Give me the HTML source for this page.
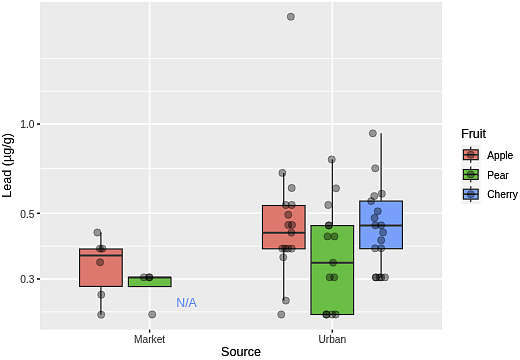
<!DOCTYPE html>
<html><head><meta charset="utf-8"><style>
html,body{margin:0;padding:0;background:#fff;}
svg{display:block;font-family:"Liberation Sans",sans-serif;will-change:transform;}
text{paint-order:stroke;}
</style></head><body>
<svg width="520" height="360" viewBox="0 0 520 360">
<defs><filter id="sh" x="0" y="0" width="520" height="360" filterUnits="userSpaceOnUse" color-interpolation-filters="sRGB"><feGaussianBlur stdDeviation="0.30"/><feConvolveMatrix order="3" kernelMatrix="-0.0600 -0.0600 -0.0600 -0.0600 1.4800 -0.0600 -0.0600 -0.0600 -0.0600" preserveAlpha="true" edgeMode="duplicate"/></filter></defs>
<g filter="url(#sh)">
<rect width="520" height="360" fill="#fff"/>
<rect x="40.00" y="1.80" width="402.00" height="327.80" fill="#EBEBEB"/>
<line x1="40.00" x2="442.00" y1="58.60" y2="58.60" stroke="#FFFFFF" stroke-width="0.8"/>
<line x1="40.00" x2="442.00" y1="91.25" y2="91.25" stroke="#FFFFFF" stroke-width="0.8"/>
<line x1="40.00" x2="442.00" y1="168.70" y2="168.70" stroke="#FFFFFF" stroke-width="0.8"/>
<line x1="40.00" x2="442.00" y1="246.15" y2="246.15" stroke="#FFFFFF" stroke-width="0.8"/>
<line x1="40.00" x2="442.00" y1="311.85" y2="311.85" stroke="#FFFFFF" stroke-width="0.8"/>
<line x1="40.00" x2="442.00" y1="124.05" y2="124.05" stroke="#FFFFFF" stroke-width="1.6"/>
<line x1="40.00" x2="442.00" y1="213.30" y2="213.30" stroke="#FFFFFF" stroke-width="1.6"/>
<line x1="40.00" x2="442.00" y1="279.00" y2="279.00" stroke="#FFFFFF" stroke-width="1.6"/>
<line x1="149.60" x2="149.60" y1="1.80" y2="329.60" stroke="#FFFFFF" stroke-width="1.6"/>
<line x1="332.30" x2="332.30" y1="1.80" y2="329.60" stroke="#FFFFFF" stroke-width="1.6"/>
<line x1="100.90" x2="100.90" y1="232.60" y2="249.00" stroke="#333333" stroke-width="1.25"/>
<line x1="100.90" x2="100.90" y1="286.40" y2="314.70" stroke="#333333" stroke-width="1.25"/>
<rect x="79.60" y="249.00" width="42.60" height="37.40" fill="rgb(220,120,110)" stroke="#333333" stroke-width="1.25"/>
<line x1="79.60" x2="122.20" y1="255.60" y2="255.60" stroke="#333333" stroke-width="2.00"/>
<rect x="128.40" y="277.40" width="42.60" height="9.15" fill="rgb(106,189,69)" stroke="#333333" stroke-width="1.25"/>
<line x1="128.40" x2="171.00" y1="277.40" y2="277.40" stroke="#333333" stroke-width="2.00"/>
<line x1="283.75" x2="283.75" y1="173.00" y2="205.50" stroke="#333333" stroke-width="1.25"/>
<line x1="283.75" x2="283.75" y1="248.80" y2="300.40" stroke="#333333" stroke-width="1.25"/>
<rect x="262.45" y="205.50" width="42.60" height="43.30" fill="rgb(220,120,110)" stroke="#333333" stroke-width="1.25"/>
<line x1="262.45" x2="305.05" y1="232.70" y2="232.70" stroke="#333333" stroke-width="2.00"/>
<line x1="332.30" x2="332.30" y1="159.60" y2="225.60" stroke="#333333" stroke-width="1.25"/>
<rect x="311.00" y="225.60" width="42.60" height="88.90" fill="rgb(106,189,69)" stroke="#333333" stroke-width="1.25"/>
<line x1="311.00" x2="353.60" y1="262.80" y2="262.80" stroke="#333333" stroke-width="2.00"/>
<line x1="381.10" x2="381.10" y1="133.30" y2="201.10" stroke="#333333" stroke-width="1.25"/>
<line x1="381.10" x2="381.10" y1="248.70" y2="277.40" stroke="#333333" stroke-width="1.25"/>
<rect x="359.80" y="201.10" width="42.60" height="47.60" fill="rgb(120,160,250)" stroke="#333333" stroke-width="1.25"/>
<line x1="359.80" x2="402.40" y1="225.40" y2="225.40" stroke="#333333" stroke-width="2.00"/>
<circle cx="97.40" cy="232.50" r="3.65" fill="rgba(0,0,0,0.37)" stroke="rgba(0,0,0,0.37)" stroke-width="0.75"/>
<circle cx="99.90" cy="248.60" r="3.65" fill="rgba(0,0,0,0.37)" stroke="rgba(0,0,0,0.37)" stroke-width="0.75"/>
<circle cx="102.40" cy="248.60" r="3.65" fill="rgba(0,0,0,0.37)" stroke="rgba(0,0,0,0.37)" stroke-width="0.75"/>
<circle cx="100.10" cy="262.25" r="3.65" fill="rgba(0,0,0,0.37)" stroke="rgba(0,0,0,0.37)" stroke-width="0.75"/>
<circle cx="101.30" cy="294.70" r="3.65" fill="rgba(0,0,0,0.37)" stroke="rgba(0,0,0,0.37)" stroke-width="0.75"/>
<circle cx="101.20" cy="314.70" r="3.65" fill="rgba(0,0,0,0.37)" stroke="rgba(0,0,0,0.37)" stroke-width="0.75"/>
<circle cx="143.80" cy="277.30" r="3.65" fill="rgba(0,0,0,0.37)" stroke="rgba(0,0,0,0.37)" stroke-width="0.75"/>
<circle cx="149.50" cy="277.30" r="3.65" fill="rgba(0,0,0,0.37)" stroke="rgba(0,0,0,0.37)" stroke-width="0.75"/>
<circle cx="149.00" cy="277.30" r="3.65" fill="rgba(0,0,0,0.37)" stroke="rgba(0,0,0,0.37)" stroke-width="0.75"/>
<circle cx="152.20" cy="314.50" r="3.65" fill="rgba(0,0,0,0.37)" stroke="rgba(0,0,0,0.37)" stroke-width="0.75"/>
<circle cx="290.80" cy="16.70" r="3.65" fill="rgba(0,0,0,0.37)" stroke="rgba(0,0,0,0.37)" stroke-width="0.75"/>
<circle cx="282.40" cy="172.90" r="3.65" fill="rgba(0,0,0,0.37)" stroke="rgba(0,0,0,0.37)" stroke-width="0.75"/>
<circle cx="291.70" cy="188.00" r="3.65" fill="rgba(0,0,0,0.37)" stroke="rgba(0,0,0,0.37)" stroke-width="0.75"/>
<circle cx="285.75" cy="205.00" r="3.65" fill="rgba(0,0,0,0.37)" stroke="rgba(0,0,0,0.37)" stroke-width="0.75"/>
<circle cx="291.75" cy="205.00" r="3.65" fill="rgba(0,0,0,0.37)" stroke="rgba(0,0,0,0.37)" stroke-width="0.75"/>
<circle cx="288.25" cy="214.75" r="3.65" fill="rgba(0,0,0,0.37)" stroke="rgba(0,0,0,0.37)" stroke-width="0.75"/>
<circle cx="288.25" cy="224.90" r="3.65" fill="rgba(0,0,0,0.37)" stroke="rgba(0,0,0,0.37)" stroke-width="0.75"/>
<circle cx="292.00" cy="224.90" r="3.65" fill="rgba(0,0,0,0.37)" stroke="rgba(0,0,0,0.37)" stroke-width="0.75"/>
<circle cx="291.40" cy="232.60" r="3.65" fill="rgba(0,0,0,0.37)" stroke="rgba(0,0,0,0.37)" stroke-width="0.75"/>
<circle cx="282.30" cy="248.60" r="3.65" fill="rgba(0,0,0,0.37)" stroke="rgba(0,0,0,0.37)" stroke-width="0.75"/>
<circle cx="285.00" cy="248.60" r="3.65" fill="rgba(0,0,0,0.37)" stroke="rgba(0,0,0,0.37)" stroke-width="0.75"/>
<circle cx="288.00" cy="248.60" r="3.65" fill="rgba(0,0,0,0.37)" stroke="rgba(0,0,0,0.37)" stroke-width="0.75"/>
<circle cx="291.70" cy="248.60" r="3.65" fill="rgba(0,0,0,0.37)" stroke="rgba(0,0,0,0.37)" stroke-width="0.75"/>
<circle cx="283.30" cy="257.30" r="3.65" fill="rgba(0,0,0,0.37)" stroke="rgba(0,0,0,0.37)" stroke-width="0.75"/>
<circle cx="285.80" cy="300.60" r="3.65" fill="rgba(0,0,0,0.37)" stroke="rgba(0,0,0,0.37)" stroke-width="0.75"/>
<circle cx="281.30" cy="314.50" r="3.65" fill="rgba(0,0,0,0.37)" stroke="rgba(0,0,0,0.37)" stroke-width="0.75"/>
<circle cx="331.70" cy="159.50" r="3.65" fill="rgba(0,0,0,0.37)" stroke="rgba(0,0,0,0.37)" stroke-width="0.75"/>
<circle cx="336.00" cy="188.30" r="3.65" fill="rgba(0,0,0,0.37)" stroke="rgba(0,0,0,0.37)" stroke-width="0.75"/>
<circle cx="328.30" cy="205.00" r="3.65" fill="rgba(0,0,0,0.37)" stroke="rgba(0,0,0,0.37)" stroke-width="0.75"/>
<circle cx="328.70" cy="225.30" r="3.65" fill="rgba(0,0,0,0.37)" stroke="rgba(0,0,0,0.37)" stroke-width="0.75"/>
<circle cx="328.90" cy="225.50" r="3.65" fill="rgba(0,0,0,0.37)" stroke="rgba(0,0,0,0.37)" stroke-width="0.75"/>
<circle cx="327.50" cy="236.40" r="3.65" fill="rgba(0,0,0,0.37)" stroke="rgba(0,0,0,0.37)" stroke-width="0.75"/>
<circle cx="334.50" cy="236.40" r="3.65" fill="rgba(0,0,0,0.37)" stroke="rgba(0,0,0,0.37)" stroke-width="0.75"/>
<circle cx="333.00" cy="262.60" r="3.65" fill="rgba(0,0,0,0.37)" stroke="rgba(0,0,0,0.37)" stroke-width="0.75"/>
<circle cx="329.70" cy="277.30" r="3.65" fill="rgba(0,0,0,0.37)" stroke="rgba(0,0,0,0.37)" stroke-width="0.75"/>
<circle cx="334.20" cy="277.30" r="3.65" fill="rgba(0,0,0,0.37)" stroke="rgba(0,0,0,0.37)" stroke-width="0.75"/>
<circle cx="326.20" cy="314.50" r="3.65" fill="rgba(0,0,0,0.37)" stroke="rgba(0,0,0,0.37)" stroke-width="0.75"/>
<circle cx="326.60" cy="314.50" r="3.65" fill="rgba(0,0,0,0.37)" stroke="rgba(0,0,0,0.37)" stroke-width="0.75"/>
<circle cx="332.20" cy="314.50" r="3.65" fill="rgba(0,0,0,0.37)" stroke="rgba(0,0,0,0.37)" stroke-width="0.75"/>
<circle cx="335.70" cy="314.50" r="3.65" fill="rgba(0,0,0,0.37)" stroke="rgba(0,0,0,0.37)" stroke-width="0.75"/>
<circle cx="372.80" cy="133.30" r="3.65" fill="rgba(0,0,0,0.37)" stroke="rgba(0,0,0,0.37)" stroke-width="0.75"/>
<circle cx="375.30" cy="168.30" r="3.65" fill="rgba(0,0,0,0.37)" stroke="rgba(0,0,0,0.37)" stroke-width="0.75"/>
<circle cx="381.80" cy="193.70" r="3.65" fill="rgba(0,0,0,0.37)" stroke="rgba(0,0,0,0.37)" stroke-width="0.75"/>
<circle cx="374.30" cy="196.10" r="3.65" fill="rgba(0,0,0,0.37)" stroke="rgba(0,0,0,0.37)" stroke-width="0.75"/>
<circle cx="371.20" cy="201.10" r="3.65" fill="rgba(0,0,0,0.37)" stroke="rgba(0,0,0,0.37)" stroke-width="0.75"/>
<circle cx="377.70" cy="211.30" r="3.65" fill="rgba(0,0,0,0.37)" stroke="rgba(0,0,0,0.37)" stroke-width="0.75"/>
<circle cx="374.60" cy="218.00" r="3.65" fill="rgba(0,0,0,0.37)" stroke="rgba(0,0,0,0.37)" stroke-width="0.75"/>
<circle cx="375.40" cy="225.30" r="3.65" fill="rgba(0,0,0,0.37)" stroke="rgba(0,0,0,0.37)" stroke-width="0.75"/>
<circle cx="381.20" cy="225.30" r="3.65" fill="rgba(0,0,0,0.37)" stroke="rgba(0,0,0,0.37)" stroke-width="0.75"/>
<circle cx="383.10" cy="232.40" r="3.65" fill="rgba(0,0,0,0.37)" stroke="rgba(0,0,0,0.37)" stroke-width="0.75"/>
<circle cx="381.20" cy="240.20" r="3.65" fill="rgba(0,0,0,0.37)" stroke="rgba(0,0,0,0.37)" stroke-width="0.75"/>
<circle cx="375.10" cy="248.30" r="3.65" fill="rgba(0,0,0,0.37)" stroke="rgba(0,0,0,0.37)" stroke-width="0.75"/>
<circle cx="381.20" cy="248.30" r="3.65" fill="rgba(0,0,0,0.37)" stroke="rgba(0,0,0,0.37)" stroke-width="0.75"/>
<circle cx="375.80" cy="277.40" r="3.65" fill="rgba(0,0,0,0.37)" stroke="rgba(0,0,0,0.37)" stroke-width="0.75"/>
<circle cx="376.00" cy="277.40" r="3.65" fill="rgba(0,0,0,0.37)" stroke="rgba(0,0,0,0.37)" stroke-width="0.75"/>
<circle cx="379.60" cy="277.40" r="3.65" fill="rgba(0,0,0,0.37)" stroke="rgba(0,0,0,0.37)" stroke-width="0.75"/>
<circle cx="381.25" cy="277.40" r="3.65" fill="rgba(0,0,0,0.37)" stroke="rgba(0,0,0,0.37)" stroke-width="0.75"/>
<circle cx="385.00" cy="277.40" r="3.65" fill="rgba(0,0,0,0.37)" stroke="rgba(0,0,0,0.37)" stroke-width="0.75"/>
<text x="186.50" y="307.00" font-size="12.30" fill="rgb(108,148,248)" stroke="rgb(108,148,248)" stroke-width="0.12" text-anchor="middle">N/A</text>
<line x1="36.90" x2="40.00" y1="124.05" y2="124.05" stroke="#333333" stroke-width="1.5"/>
<text x="34.50" y="128.25" font-size="10.20" fill="#4D4D4D" stroke="#4D4D4D" stroke-width="0.12" text-anchor="end">1.0</text>
<line x1="36.90" x2="40.00" y1="213.30" y2="213.30" stroke="#333333" stroke-width="1.5"/>
<text x="34.50" y="217.50" font-size="10.20" fill="#4D4D4D" stroke="#4D4D4D" stroke-width="0.12" text-anchor="end">0.5</text>
<line x1="36.90" x2="40.00" y1="279.00" y2="279.00" stroke="#333333" stroke-width="1.5"/>
<text x="34.50" y="283.20" font-size="10.20" fill="#4D4D4D" stroke="#4D4D4D" stroke-width="0.12" text-anchor="end">0.3</text>
<line x1="149.60" x2="149.60" y1="329.60" y2="332.70" stroke="#333333" stroke-width="1.5"/>
<text x="149.60" y="342.80" font-size="10.20" fill="#4D4D4D" stroke="#4D4D4D" stroke-width="0.12" text-anchor="middle">Market</text>
<line x1="332.30" x2="332.30" y1="329.60" y2="332.70" stroke="#333333" stroke-width="1.5"/>
<text x="332.30" y="342.80" font-size="10.20" fill="#4D4D4D" stroke="#4D4D4D" stroke-width="0.12" text-anchor="middle">Urban</text>
<text x="241.00" y="356.40" font-size="12.60" fill="#000" stroke="#000" stroke-width="0.12" text-anchor="middle">Source</text>
<text transform="translate(11.2,165.4) rotate(-90)" font-size="12.60" fill="#000" text-anchor="middle">Lead (µg/g)</text>
<text x="461.20" y="137.50" font-size="12.35" fill="#000" stroke="#000" stroke-width="0.12" text-anchor="start">Fruit</text>
<rect x="460.90" y="144.90" width="19.70" height="19.70" fill="#F2F2F2"/>
<line x1="470.75" x2="470.75" y1="146.87" y2="149.83" stroke="#333333" stroke-width="1.25"/>
<line x1="470.75" x2="470.75" y1="159.68" y2="162.63" stroke="#333333" stroke-width="1.25"/>
<rect x="463.36" y="149.83" width="14.77" height="9.85" fill="rgb(220,120,110)" stroke="#333333" stroke-width="1.25"/>
<line x1="463.36" x2="478.14" y1="154.75" y2="154.75" stroke="#333333" stroke-width="1.62"/>
<circle cx="470.75" cy="154.75" r="3.65" fill="rgba(0,0,0,0.37)" stroke="rgba(0,0,0,0.37)" stroke-width="0.75"/>
<text x="487.20" y="158.95" font-size="10.20" fill="#000" stroke="#000" stroke-width="0.12" text-anchor="start">Apple</text>
<rect x="460.90" y="164.60" width="19.70" height="19.70" fill="#F2F2F2"/>
<line x1="470.75" x2="470.75" y1="166.57" y2="169.53" stroke="#333333" stroke-width="1.25"/>
<line x1="470.75" x2="470.75" y1="179.38" y2="182.33" stroke="#333333" stroke-width="1.25"/>
<rect x="463.36" y="169.53" width="14.77" height="9.85" fill="rgb(106,189,69)" stroke="#333333" stroke-width="1.25"/>
<line x1="463.36" x2="478.14" y1="174.45" y2="174.45" stroke="#333333" stroke-width="1.62"/>
<circle cx="470.75" cy="174.45" r="3.65" fill="rgba(0,0,0,0.37)" stroke="rgba(0,0,0,0.37)" stroke-width="0.75"/>
<text x="487.20" y="178.65" font-size="10.20" fill="#000" stroke="#000" stroke-width="0.12" text-anchor="start">Pear</text>
<rect x="460.90" y="184.30" width="19.70" height="19.70" fill="#F2F2F2"/>
<line x1="470.75" x2="470.75" y1="186.27" y2="189.23" stroke="#333333" stroke-width="1.25"/>
<line x1="470.75" x2="470.75" y1="199.08" y2="202.03" stroke="#333333" stroke-width="1.25"/>
<rect x="463.36" y="189.23" width="14.77" height="9.85" fill="rgb(120,160,250)" stroke="#333333" stroke-width="1.25"/>
<line x1="463.36" x2="478.14" y1="194.15" y2="194.15" stroke="#333333" stroke-width="1.62"/>
<circle cx="470.75" cy="194.15" r="3.65" fill="rgba(0,0,0,0.37)" stroke="rgba(0,0,0,0.37)" stroke-width="0.75"/>
<text x="487.20" y="198.35" font-size="10.20" fill="#000" stroke="#000" stroke-width="0.12" text-anchor="start">Cherry</text>
</g>
</svg>
</body></html>
